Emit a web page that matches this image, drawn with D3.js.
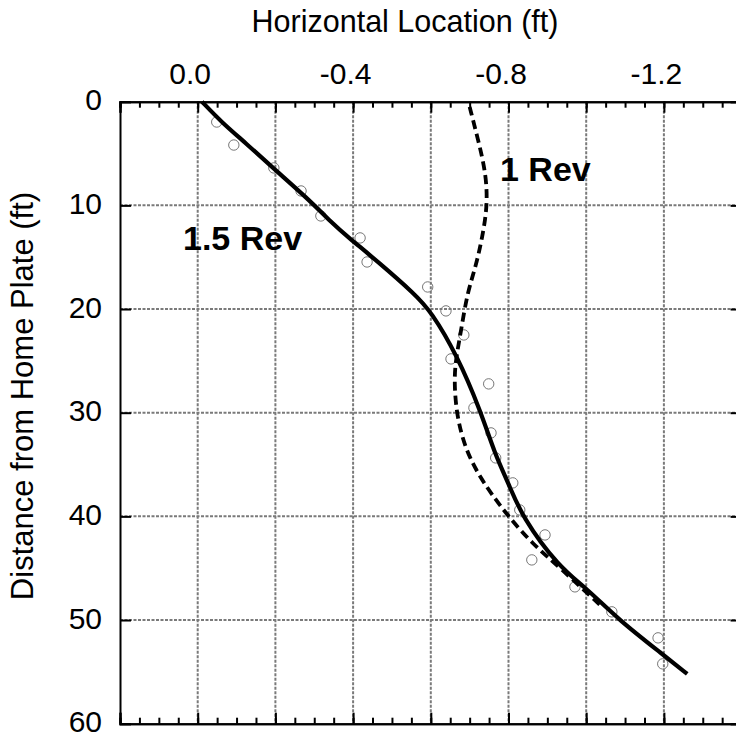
<!DOCTYPE html>
<html>
<head>
<meta charset="utf-8">
<script src="https://cdn.jsdelivr.net/npm/d3@7"></script>
<style>
  body { margin: 0; background: #fff; }
  svg { display: block; font-family: "Liberation Sans", Arial, sans-serif; }
  .grid line { stroke: #7a7a7a; stroke-width: 2; stroke-dasharray: 3,1.5; }
  .axis path, .axis line { stroke: #000; stroke-width: 2; }
  .axis text { font-size: 30px; fill: #000; font-family: "Liberation Sans", Arial, sans-serif; }
</style>
</head>
<body>
<svg id="svg" width="736" height="734"></svg>
<script>
// horizontal location (ft) tick marks
var xMajorTicks = [0.2, 0, -0.2, -0.4, -0.6, -0.8, -1.0, -1.2, -1.4];
var xLabelTicks = [0, -0.4, -0.8, -1.2];
var xMinorTicks = d3.range(0.2, -1.4001, -0.05);
var yTicks = [0, 10, 20, 30, 40, 50, 60];

// 1.5 Rev (solid fit)
var rev15Dist = [0, 2, 4, 6.6, 9.2, 11.7, 13, 15.5, 18.6, 20.2, 24.4, 29.9, 34, 36.8, 40, 44.9, 46.9, 50, 53.4, 55.2];
var rev15Loc = [-0.011, -0.062, -0.124, -0.2, -0.279, -0.346, -0.385, -0.466, -0.56, -0.6, -0.667, -0.729, -0.765, -0.8, -0.834, -0.93, -1.0, -1.084, -1.2, -1.26];

// 1 Rev (dashed fit)
var rev1Dist = [0.5, 3.7, 6.9, 10, 13, 15.9, 18.4, 22.3, 24.9, 27.1, 30.4, 33.6, 36.2, 38.4, 40, 42.6, 45, 48.7];
var rev1Loc = [-0.70, -0.722, -0.742, -0.746, -0.733, -0.716, -0.694, -0.677, -0.664, -0.66, -0.667, -0.69, -0.726, -0.767, -0.80, -0.86, -0.934, -1.04];

// measured points
var obsDist = [1.96, 4.18, 6.39, 8.61, 11.02, 13.14, 15.46, 17.87, 20.18, 22.5, 24.81, 27.22, 29.53, 31.95, 34.36, 36.77, 39.38, 41.79, 44.2, 46.8, 49.21, 51.72, 54.23];
var obsLoc = [-0.049, -0.093, -0.196, -0.266, -0.317, -0.418, -0.436, -0.592, -0.639, -0.685, -0.652, -0.749, -0.711, -0.755, -0.767, -0.811, -0.829, -0.894, -0.86, -0.971, -1.066, -1.185, -1.197];

var margin = {left: 120, top: 101.7};
var width = 621.6, height = 622;

var svg = d3.select("#svg");
var g = svg.append("g").attr("transform", "translate(" + margin.left + "," + margin.top + ")");

var x = d3.scaleLinear().domain([0.2, -1.4]).range([0, width]);
var y = d3.scaleLinear().domain([0, 60]).range([0, height]);

// grid
g.append("g").attr("class", "grid")
    .selectAll("line")
    .data(xMajorTicks.slice(1, -1))
    .enter().append("line")
    .attr("x1", d => x(d)).attr("x2", d => x(d))
    .attr("y1", 0).attr("y2", height);

g.append("g").attr("class", "grid")
    .selectAll("line")
    .data(yTicks.slice(1, -1))
    .enter().append("line")
    .attr("y1", d => y(d)).attr("y2", d => y(d))
    .attr("x1", 0).attr("x2", width);

// axes (ticks point inward)
var fmt = d => xLabelTicks.some(v => Math.abs(v - d) < 1e-9) ? d.toFixed(1) : "";

var topAxis = g.append("g").attr("class", "axis")
    .call(d3.axisTop(x).tickValues(xMajorTicks).tickSize(-11).tickFormat(fmt));
topAxis.selectAll("text").attr("dx", -8).attr("y", -18);
g.append("g").attr("class", "axis")
    .call(d3.axisTop(x).tickValues(xMinorTicks).tickSize(-6).tickFormat(""));

g.append("g").attr("class", "axis").attr("transform", "translate(0," + height + ")")
    .call(d3.axisBottom(x).tickValues(xMajorTicks).tickSize(-11).tickFormat(""));
g.append("g").attr("class", "axis").attr("transform", "translate(0," + height + ")")
    .call(d3.axisBottom(x).tickValues(xMinorTicks).tickSize(-6).tickFormat(""));

var leftAxis = g.append("g").attr("class", "axis")
    .call(d3.axisLeft(y).tickValues(yTicks).tickSize(-11).tickFormat(d3.format("d")));
leftAxis.selectAll("text").attr("x", -18).attr("dy", "0.27em");
g.append("g").attr("class", "axis").attr("transform", "translate(" + width + ",0)")
    .call(d3.axisRight(y).tickValues(yTicks).tickSize(-11).tickFormat(""));

g.selectAll(".axis .domain").attr("stroke-width", 2.5);

// points
g.append("g")
    .selectAll("circle")
    .data(obsDist.map((d, i) => [obsLoc[i], d]))
    .enter().append("circle")
    .attr("cx", d => x(d[0]))
    .attr("cy", d => y(d[1]))
    .attr("r", 5.2)
    .attr("fill", "none")
    .attr("stroke", "#777")
    .attr("stroke-width", 1);

var line = d3.line()
    .x(d => x(d[0]))
    .y(d => y(d[1]))
    .curve(d3.curveBasis);

g.append("path")
    .datum(rev1Dist.map((d, i) => [rev1Loc[i], d]))
    .attr("d", line)
    .attr("fill", "none")
    .attr("stroke", "#000")
    .attr("stroke-width", 3.8)
    .attr("stroke-dasharray", "9,5");

g.append("path")
    .datum(rev15Dist.map((d, i) => [rev15Loc[i], d]))
    .attr("d", line)
    .attr("fill", "none")
    .attr("stroke", "#000")
    .attr("stroke-width", 4.2)
    .attr("stroke-linecap", "butt");

// labels
svg.append("text")
    .attr("x", 405).attr("y", 32)
    .attr("text-anchor", "middle")
    .attr("font-size", 30.5)
    .text("Horizontal Location (ft)");

svg.append("text")
    .attr("transform", "translate(33,396) rotate(-90)")
    .attr("text-anchor", "middle")
    .attr("font-size", 31)
    .text("Distance from Home Plate (ft)");

svg.append("text")
    .attr("x", 183).attr("y", 250)
    .attr("font-size", 34).attr("font-weight", "bold")
    .text("1.5 Rev");

svg.append("text")
    .attr("x", 500).attr("y", 181)
    .attr("font-size", 34).attr("font-weight", "bold")
    .text("1 Rev");
</script>
</body>
</html>
